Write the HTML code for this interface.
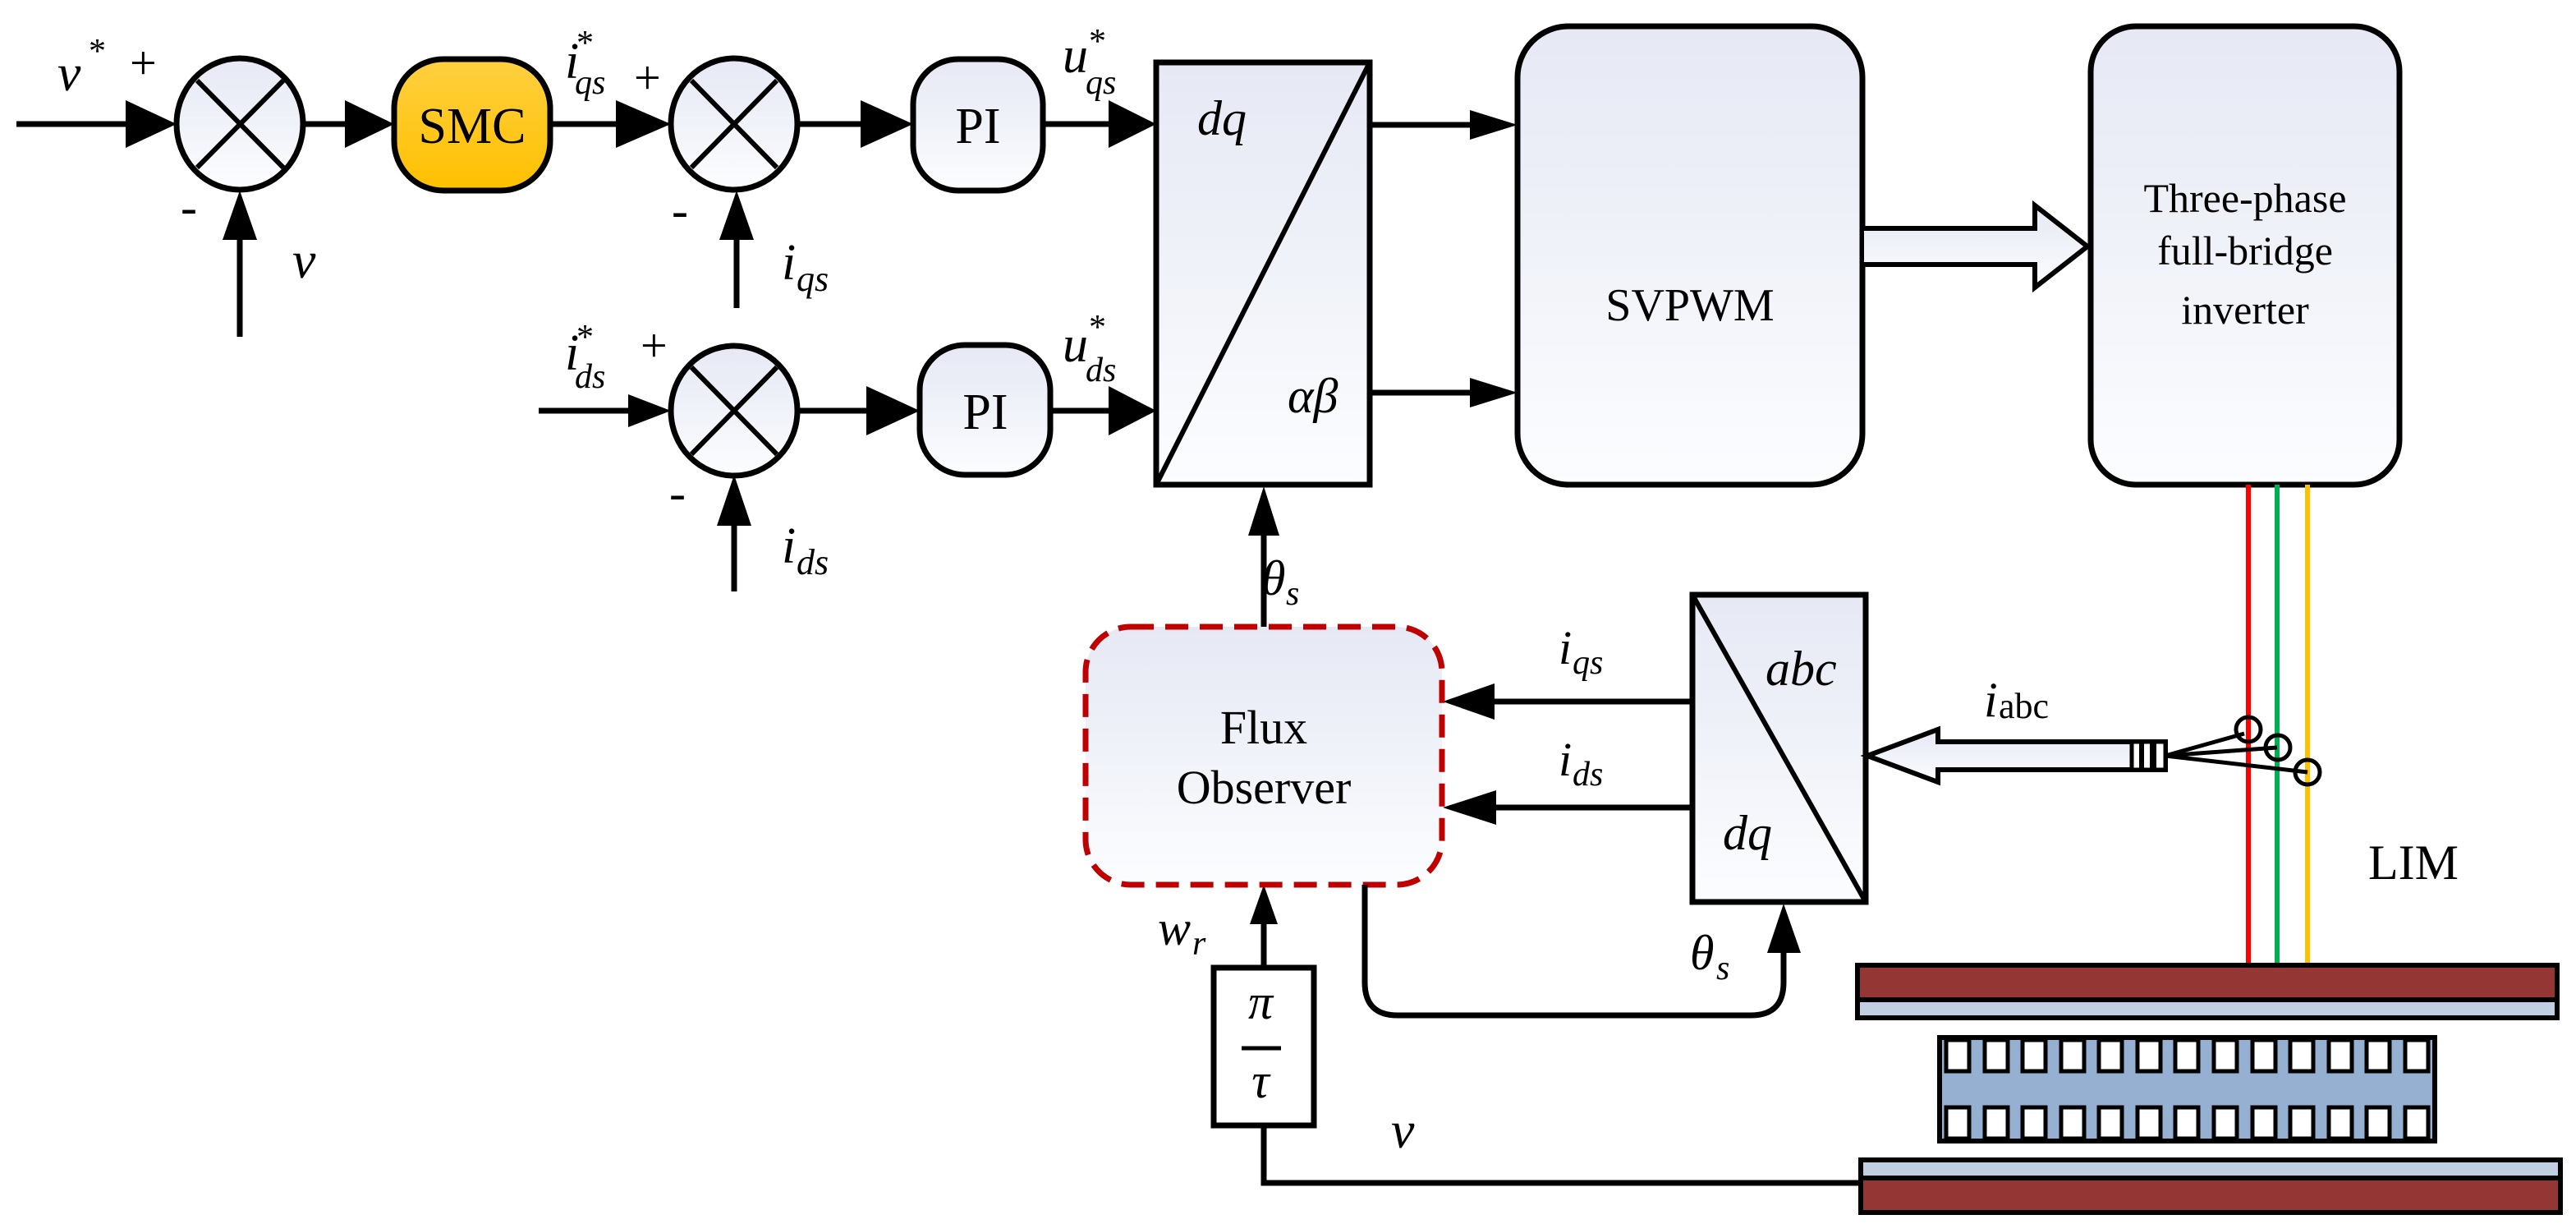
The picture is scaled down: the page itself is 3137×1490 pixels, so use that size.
<!DOCTYPE html>
<html><head><meta charset="utf-8"><style>
html,body{margin:0;padding:0;background:#fff}
svg{display:block}
svg text{font-family:"Liberation Serif","Times New Roman",serif;fill:#000}
.i{font-style:italic}
</style></head><body>
<svg width="3137" height="1490" viewBox="0 0 3137 1490" xmlns="http://www.w3.org/2000/svg" font-family="Liberation Serif, serif">
<defs>
<linearGradient id="g" x1="0" y1="0" x2="0" y2="1"><stop offset="0" stop-color="#e6e8f4"/><stop offset="1" stop-color="#fbfdff"/></linearGradient>
<linearGradient id="o" x1="0" y1="0" x2="0" y2="1"><stop offset="0" stop-color="#ffd040"/><stop offset="1" stop-color="#ffc000"/></linearGradient>
</defs>
<g stroke="#000" stroke-width="7">
<line x1="20" y1="151" x2="160" y2="151"/>
<line x1="370" y1="151" x2="420" y2="151"/>
<line x1="672" y1="151" x2="750" y2="151"/>
<line x1="973" y1="151" x2="1048" y2="151"/>
<line x1="1272" y1="151" x2="1350" y2="151"/>
<line x1="292" y1="410" x2="292" y2="290"/>
<line x1="897" y1="375" x2="897" y2="290"/>
<line x1="656" y1="500" x2="765" y2="500"/>
<line x1="973" y1="500" x2="1055" y2="500"/>
<line x1="1281" y1="500" x2="1350" y2="500"/>
<line x1="894" y1="720" x2="894" y2="638"/>
<line x1="1668" y1="152" x2="1790" y2="152"/>
<line x1="1668" y1="478" x2="1790" y2="478"/>
<line x1="1539" y1="763" x2="1539" y2="650"/>
<line x1="2061" y1="854" x2="1815" y2="854"/>
<line x1="2061" y1="983" x2="1815" y2="983"/>
<line x1="1539" y1="1178" x2="1539" y2="1120"/>
</g>
<g fill="#000">
<path d="M153,122 L215,151 L153,180z"/>
<path d="M420,122 L480,151 L420,180z"/>
<path d="M750,122 L817,151 L750,180z"/>
<path d="M1048,122 L1112,151 L1048,180z"/>
<path d="M1350,122 L1408,151 L1350,180z"/>
<path d="M271,292 L292,232 L313,292z"/>
<path d="M876,292 L897,232 L918,292z"/>
<path d="M765,480 L817,500 L765,520z"/>
<path d="M1055,470 L1120,500 L1055,530z"/>
<path d="M1350,470 L1408,500 L1350,530z"/>
<path d="M873,640 L894,578 L915,640z"/>
<path d="M1790,134 L1848,152 L1790,170z"/>
<path d="M1790,460 L1848,478 L1790,496z"/>
<path d="M1520,652 L1539,592 L1558,652z"/>
<path d="M1820,832 L1757,854 L1820,876z"/>
<path d="M1822,962 L1757,983 L1822,1004z"/>
<path d="M1522,1125 L1539,1077 L1556,1125z"/>
<path d="M2152,1160 L2172,1100 L2193,1160z"/>
</g>
<g stroke="#000" stroke-width="7" fill="url(#g)">
<ellipse cx="292" cy="151" rx="77" ry="80"/>
<ellipse cx="894" cy="151" rx="77" ry="80"/>
<ellipse cx="894" cy="500" rx="77" ry="79"/>
</g>
<g stroke="#000" stroke-width="6">
<line x1="240" y1="98" x2="345" y2="204"/><line x1="345" y1="98" x2="240" y2="204"/>
<line x1="842" y1="98" x2="946" y2="204"/><line x1="946" y1="98" x2="842" y2="204"/>
<line x1="842" y1="447" x2="946" y2="553"/><line x1="946" y1="447" x2="842" y2="553"/>
</g>
<rect x="480" y="72" width="190" height="160" rx="60" fill="url(#o)" stroke="#000" stroke-width="7"/>
<rect x="1112" y="72" width="158" height="160" rx="55" fill="url(#g)" stroke="#000" stroke-width="7"/>
<rect x="1120" y="420" width="159" height="158" rx="55" fill="url(#g)" stroke="#000" stroke-width="7"/>
<text x="575" y="174" font-size="62" text-anchor="middle">SMC</text>
<text x="1191" y="174" font-size="62" text-anchor="middle">PI</text>
<text x="1200" y="522" font-size="62" text-anchor="middle">PI</text>
<text x="70" y="110" font-size="64" class="i">v</text><text x="108" y="76" font-size="42">*</text>
<text x="158" y="96" font-size="58">+</text>
<text x="220" y="272" font-size="60">-</text>
<text x="356" y="338" font-size="64" class="i">v</text>
<text x="688" y="95" font-size="62" class="i">i</text><text x="702" y="66" font-size="42">*</text><text x="700" y="114" font-size="42" class="i">qs</text>
<text x="772" y="114" font-size="58">+</text>
<text x="818" y="276" font-size="60">-</text>
<text x="952" y="340" font-size="62" class="i">i</text><text x="970" y="354" font-size="44" class="i">qs</text>
<text x="1294" y="88" font-size="62" class="i">u</text><text x="1326" y="64" font-size="42">*</text><text x="1322" y="114" font-size="42" class="i">qs</text>
<text x="688" y="450" font-size="62" class="i">i</text><text x="702" y="424" font-size="42">*</text><text x="700" y="472" font-size="42" class="i">ds</text>
<text x="780" y="440" font-size="58">+</text>
<text x="815" y="620" font-size="60">-</text>
<text x="952" y="685" font-size="62" class="i">i</text><text x="970" y="699" font-size="44" class="i">ds</text>
<text x="1294" y="440" font-size="62" class="i">u</text><text x="1326" y="412" font-size="42">*</text><text x="1322" y="464" font-size="42" class="i">ds</text>
<rect x="1408" y="76" width="260" height="514" fill="url(#g)" stroke="#000" stroke-width="7"/>
<line x1="1408" y1="590" x2="1668" y2="76" stroke="#000" stroke-width="6"/>
<text x="1458" y="164" font-size="60" class="i">dq</text>
<text x="1568" y="502" font-size="60" class="i">αβ</text>
<rect x="1848" y="32" width="420" height="558" rx="62" fill="url(#g)" stroke="#000" stroke-width="7"/>
<text x="2058" y="390" font-size="56" text-anchor="middle">SVPWM</text>
<path d="M2270,278 L2478,278 L2478,250 L2542,300 L2478,350 L2478,322 L2270,322" fill="url(#g)" stroke="#000" stroke-width="6"/>
<rect x="2546" y="32" width="376" height="558" rx="55" fill="url(#g)" stroke="#000" stroke-width="7"/>
<text x="2734" y="258" font-size="50" text-anchor="middle">Three-phase</text>
<text x="2734" y="322" font-size="50" text-anchor="middle">full-bridge</text>
<text x="2734" y="394" font-size="50" text-anchor="middle">inverter</text>
<line x1="2738" y1="590" x2="2738" y2="1175" stroke="#ff0000" stroke-width="6"/>
<line x1="2773" y1="590" x2="2773" y2="1175" stroke="#00b050" stroke-width="6"/>
<line x1="2810" y1="590" x2="2810" y2="1175" stroke="#ffc000" stroke-width="6"/>
<text x="1536" y="724" font-size="60" class="i">θ</text><text x="1566" y="736" font-size="42" class="i">s</text>
<rect x="1322" y="763" width="434" height="314" rx="55" fill="url(#g)" stroke="#c00000" stroke-width="7" stroke-dasharray="28,14"/>
<text x="1539" y="905" font-size="58" text-anchor="middle">Flux</text>
<text x="1539" y="978" font-size="58" text-anchor="middle">Observer</text>
<rect x="2061" y="724" width="211" height="374" fill="url(#g)" stroke="#000" stroke-width="7"/>
<line x1="2061" y1="724" x2="2272" y2="1098" stroke="#000" stroke-width="6"/>
<text x="2150" y="834" font-size="60" class="i">abc</text>
<text x="2098" y="1034" font-size="60" class="i">dq</text>
<text x="1898" y="808" font-size="58" class="i">i</text><text x="1915" y="820" font-size="42" class="i">qs</text>
<text x="1898" y="944" font-size="58" class="i">i</text><text x="1915" y="956" font-size="42" class="i">ds</text>
<path d="M1662,1077 L1662,1196 Q1662,1236 1702,1236 L2132,1236 Q2172,1236 2172,1196 L2172,1155" fill="none" stroke="#000" stroke-width="7"/>
<text x="2058" y="1180" font-size="60" class="i">θ</text><text x="2090" y="1192" font-size="42" class="i">s</text>
<rect x="1478" y="1178" width="122" height="192" fill="#fff" stroke="#000" stroke-width="7"/>
<text x="1535" y="1240" font-size="60" class="i" text-anchor="middle">π</text>
<line x1="1512" y1="1276" x2="1560" y2="1276" stroke="#000" stroke-width="5"/>
<text x="1535" y="1336" font-size="60" class="i" text-anchor="middle">τ</text>
<text x="1410" y="1150" font-size="60" class="i">w</text><text x="1452" y="1162" font-size="42" class="i">r</text>
<polyline points="1539,1370 1539,1440 2265,1440" fill="none" stroke="#000" stroke-width="7"/>
<text x="1694" y="1397" font-size="64" class="i">v</text>
<path d="M2637,903 L2360,903 L2360,888 L2274,920 L2360,952 L2360,937 L2637,937 Z" fill="url(#g)" stroke="#000" stroke-width="6"/>
<rect x="2596" y="903" width="41" height="34" fill="#fff" stroke="#000" stroke-width="5"/>
<rect x="2605" y="903" width="6" height="34" fill="#000"/><rect x="2618" y="903" width="8" height="34" fill="#000"/>
<g stroke="#000" stroke-width="5" fill="none">
<line x1="2637" y1="920" x2="2733" y2="893"/>
<line x1="2637" y1="920" x2="2773" y2="910"/>
<line x1="2637" y1="920" x2="2810" y2="940"/>
<circle cx="2738" cy="888" r="15"/><circle cx="2774" cy="910" r="15"/><circle cx="2810" cy="940" r="15"/>
</g>
<text x="2416" y="872" font-size="60" class="i">i</text><text x="2434" y="874" font-size="44">abc</text>
<text x="2884" y="1070" font-size="60">LIM</text>
<rect x="2262" y="1175" width="852" height="42" fill="#943634" stroke="#000" stroke-width="6"/>
<rect x="2262" y="1217" width="852" height="22" fill="#c0cfe2" stroke="#000" stroke-width="6"/>
<rect x="2362" y="1263" width="603" height="126" fill="#95b0d0" stroke="#000" stroke-width="6"/>
<g fill="#fff" stroke="#000" stroke-width="5">
<rect x="2370" y="1266" width="28" height="38"/><rect x="2417" y="1266" width="28" height="38"/><rect x="2463" y="1266" width="28" height="38"/><rect x="2510" y="1266" width="28" height="38"/><rect x="2556" y="1266" width="28" height="38"/><rect x="2603" y="1266" width="28" height="38"/><rect x="2649" y="1266" width="28" height="38"/><rect x="2696" y="1266" width="28" height="38"/><rect x="2743" y="1266" width="28" height="38"/><rect x="2789" y="1266" width="28" height="38"/><rect x="2836" y="1266" width="28" height="38"/><rect x="2882" y="1266" width="28" height="38"/><rect x="2929" y="1266" width="28" height="38"/>
<rect x="2370" y="1348" width="28" height="38"/><rect x="2417" y="1348" width="28" height="38"/><rect x="2463" y="1348" width="28" height="38"/><rect x="2510" y="1348" width="28" height="38"/><rect x="2556" y="1348" width="28" height="38"/><rect x="2603" y="1348" width="28" height="38"/><rect x="2649" y="1348" width="28" height="38"/><rect x="2696" y="1348" width="28" height="38"/><rect x="2743" y="1348" width="28" height="38"/><rect x="2789" y="1348" width="28" height="38"/><rect x="2836" y="1348" width="28" height="38"/><rect x="2882" y="1348" width="28" height="38"/><rect x="2929" y="1348" width="28" height="38"/>
</g>
<rect x="2266" y="1412" width="852" height="22" fill="#c0cfe2" stroke="#000" stroke-width="6"/>
<rect x="2266" y="1434" width="852" height="42" fill="#943634" stroke="#000" stroke-width="6"/>
</svg>
</body></html>
